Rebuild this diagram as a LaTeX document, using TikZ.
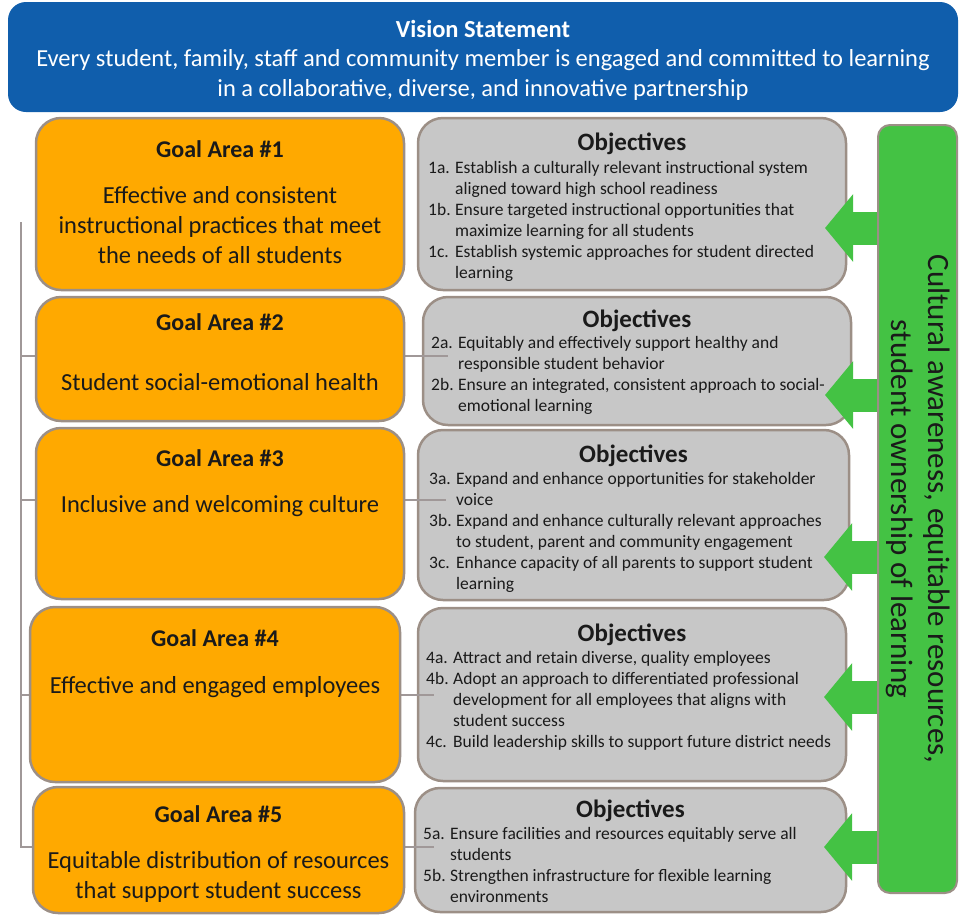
\documentclass[tikz,border=0pt]{standalone}
\usepackage{fontspec}
\setmainfont{Carlito}
\usetikzlibrary{arrows.meta}
\definecolor{visionblue}{RGB}{16,94,172}
\definecolor{goalorange}{RGB}{255,169,0}
\definecolor{objgray}{RGB}{199,199,199}
\definecolor{boxrim}{RGB}{156,143,134}
\definecolor{bargreen}{RGB}{68,194,68}
\definecolor{linkgray}{RGB}{160,152,152}
\definecolor{ink}{RGB}{26,26,26}
\tikzset{goal box/.style={rectangle, rounded corners=25pt, fill=goalorange, draw=boxrim, line width=2.5pt}}
\tikzset{objective box/.style={goal box, fill=objgray}}
\tikzset{goal title/.style={anchor=base, inner sep=0pt, text=ink, font=\bfseries\fontsize{24}{29}\selectfont}}
\tikzset{goal text/.style={anchor=base, inner sep=0pt, text=ink, font=\fontsize{24.5}{30}\selectfont}}
\tikzset{objective title/.style={goal title, font=\bfseries\fontsize{25}{30}\selectfont}}
\tikzset{objective text/.style={anchor=base west, inner sep=0pt, text=ink, font=\fontsize{17.5}{21.1}\selectfont}}
\tikzset{vision text/.style={anchor=base, inner sep=0pt, text=white, font=\fontsize{24.5}{29.5}\selectfont}}
\tikzset{link/.style={draw=linkgray, line width=1.5pt}}
\tikzset{push arrow/.style={draw=bargreen, line width=33pt, -{Triangle[width=66pt,length=28pt]}}}
\newcommand{\cstack}[1]{\begin{tabular}[t]{@{}c@{}}#1\end{tabular}}
\newcommand{\objlist}[1]{\begin{tabular}[t]{@{}p{27pt}@{}l@{}}#1\end{tabular}}

\begin{document}
\begin{tikzpicture}
  [x=1pt, y=-1pt]
  \useasboundingbox (0,0) rectangle (961,914);

  \node [rectangle, rounded corners=18pt, fill=visionblue, minimum width=950, minimum height=110] (vision) at (483,57) {};
  \node [vision text, font=\bfseries\fontsize{24.5}{29.5}\selectfont] (visiont) at (483,37) {Vision Statement};
  \node [vision text] (visionb) at (483,66.5) {\cstack{Every student, family, staff and community member is engaged and committed to learning\\
    in a collaborative, diverse, and innovative partnership}};

  \node [objective box, minimum width=428, minimum height=172] (o1) at (632,204)   {};
  \node [objective box, minimum width=428, minimum height=128] (o2) at (637,361)   {};
  \node [objective box, minimum width=431, minimum height=170] (o3) at (633.5,515) {};
  \node [objective box, minimum width=428, minimum height=173] (o4) at (632,694.5) {};
  \node [objective box, minimum width=431, minimum height=124] (o5) at (630.5,850) {};

  \coordinate (trunk) at (21,222);
  \coordinate (end2)  at (448,356);
  \coordinate (end3)  at (446,500);
  \coordinate (end4)  at (434,695);
  \coordinate (end5)  at (434,847);
  \draw [link] (trunk) |- (end5);
  \draw [link] (trunk |- end2) -- (end2);
  \draw [link] (trunk |- end3) -- (end3);
  \draw [link] (trunk |- end4) -- (end4);

  \node [goal box, minimum width=368, minimum height=172] (g1) at (220,204)   {};
  \node [goal box, minimum width=368, minimum height=124] (g2) at (220,359)   {};
  \node [goal box, minimum width=368, minimum height=171] (g3) at (220,513.5) {};
  \node [goal box, minimum width=370, minimum height=175] (g4) at (215,694.5) {};
  \node [goal box, minimum width=371, minimum height=126] (g5) at (218.5,850) {};

  \node [goal title] (g1t) at (220,157)   {Goal Area \#1};
  \node [goal text]  (g1d) at (220,203)   {\cstack{Effective and consistent\\instructional practices that meet\\the needs of all students}};
  \node [goal title] (g2t) at (220,330)   {Goal Area \#2};
  \node [goal text]  (g2d) at (220,390)   {Student social-emotional health};
  \node [goal title] (g3t) at (220,466)   {Goal Area \#3};
  \node [goal text]  (g3d) at (220,512)   {Inclusive and welcoming culture};
  \node [goal title] (g4t) at (215,646)   {Goal Area \#4};
  \node [goal text]  (g4d) at (215,693)   {Effective and engaged employees};
  \node [goal title] (g5t) at (218.5,822) {Goal Area \#5};
  \node [goal text]  (g5d) at (218.5,868) {\cstack{Equitable distribution of resources\\that support student success}};

  \node [objective title] (o1h) at (632,150)   {Objectives};
  \node [objective text]  (o1l) at (428,173)   {\objlist{1a. & Establish a culturally relevant instructional system\\
    & aligned toward high school readiness\\
    1b. & Ensure targeted instructional opportunities that\\
    & maximize learning for all students\\
    1c. & Establish systemic approaches for student directed\\
    & learning}};
  \node [objective title] (o2h) at (637,327)   {Objectives};
  \node [objective text]  (o2l) at (431,348)   {\objlist{2a. & Equitably and effectively support healthy and\\
    & responsible student behavior\\
    2b. & Ensure an integrated, consistent approach to social-\\
    & emotional learning}};
  \node [objective title] (o3h) at (633.5,462) {Objectives};
  \node [objective text]  (o3l) at (429,484)   {\objlist{3a. & Expand and enhance opportunities for stakeholder\\
    & voice\\
    3b. & Expand and enhance culturally relevant approaches\\
    & to student, parent and community engagement\\
    3c. & Enhance capacity of all parents to support student\\
    & learning}};
  \node [objective title] (o4h) at (632,641)   {Objectives};
  \node [objective text]  (o4l) at (426,663)   {\objlist{4a. & Attract and retain diverse, quality employees\\
    4b. & Adopt an approach to differentiated professional\\
    & development for all employees that aligns with\\
    & student success\\
    4c. & Build leadership skills to support future district needs}};
  \node [objective title] (o5h) at (630.5,817) {Objectives};
  \node [objective text]  (o5l) at (423,839)   {\objlist{5a. & Ensure facilities and resources equitably serve all\\
    & students\\
    5b. & Strengthen infrastructure for flexible learning\\
    & environments}};

  \node [rectangle, rounded corners=12pt, fill=bargreen, draw=boxrim, line width=2pt, minimum width=79, minimum height=768] (bar) at (917.5,509) {};
  \coordinate (tip1) at (825,228);
  \coordinate (tip2) at (825,395);
  \coordinate (tip3) at (824,557);
  \coordinate (tip4) at (824,697);
  \coordinate (tip5) at (824,847);
  \draw [push arrow] (bar.west |- tip1) -- (tip1);
  \draw [push arrow] (bar.west |- tip2) -- (tip2);
  \draw [push arrow] (bar.west |- tip3) -- (tip3);
  \draw [push arrow] (bar.west |- tip4) -- (tip4);
  \draw [push arrow] (bar.west |- tip5) -- (tip5);
  \node [rotate=-90, inner sep=0pt, text=ink, font=\fontsize{31}{37}\selectfont] (bart) at (bar.center) {\cstack{Cultural awareness, equitable resources,\\student ownership of learning}};
\end{tikzpicture}
\end{document}
